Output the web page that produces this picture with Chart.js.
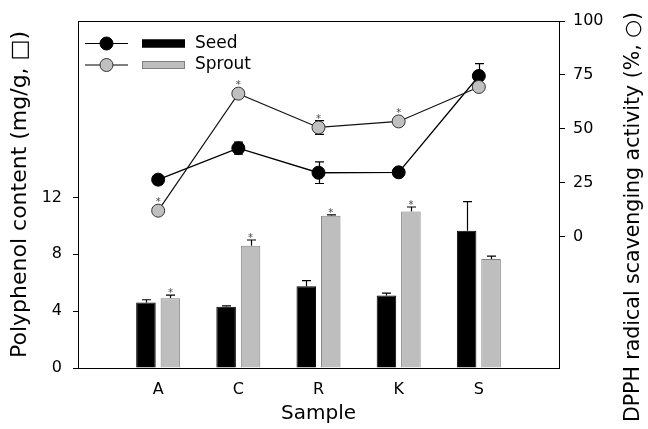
<!DOCTYPE html>
<html><head><meta charset="utf-8">
<script src="https://cdn.jsdelivr.net/npm/chart.js@4/dist/chart.umd.min.js"></script>
<style>html,body{margin:0;padding:0;background:#fff;}#wrap{width:648px;height:429px;position:relative;}canvas{display:block;}</style>
</head><body><div id="wrap"><canvas id="c" width="648" height="429" style="width:648px;height:429px"></canvas></div>
<script>
// ---- data ----
const categories = ['A', 'C', 'R', 'K', 'S'];
const seedPoly = [4.6, 4.3, 5.75, 5.1, 9.65];
const seedPolyErr = [0.2, 0.07, 0.4, 0.16, 2.05];
const sproutPoly = [4.9, 8.6, 10.7, 11.0, 7.67];
const sproutPolyErr = [0.23, 0.4, 0.07, 0.32, 0.2];
const seedDpph = [26.4, 41.0, 29.6, 29.8, 74.5];
const seedDpphErr = [1.5, 2.8, 5.0, 1.5, 5.7];
const sproutDpph = [12.0, 66.3, 50.6, 53.4, 69.4];
const sproutDpphErr = [1.0, 1.5, 3.2, 1.5, 1.5];
const sproutPolySig = [true, true, true, true, false];
const sproutDpphSig = [true, true, true, true, false];
const leftTicks = [0, 4, 8, 12];
const rightTicks = [0, 25, 50, 75, 100];
const seriesNames = ['Seed', 'Sprout'];
const xTitle = 'Sample';
const yLeftTitle = 'Polyphenol content (mg/g, \u25A1)';
const yRightTitle = 'DPPH radical scavenging activity (%, \u25CB)';

const FONT = 'DejaVu Sans';
Chart.defaults.font.family = FONT;
Chart.defaults.color = '#000';

const pad = arr => [null, ...arr, null];
const labels = ['', ...categories, ''];

const errors = { 0: sproutDpphErr, 1: seedDpphErr, 2: seedPolyErr, 3: sproutPolyErr };
const errBoth = { 0: true, 1: true, 2: false, 3: false };

const errorBarPlugin = {
  id: 'errorBars',
  beforeDatasetsDraw(chart) {
    const ctx = chart.ctx;
    ctx.save();
    ctx.strokeStyle = '#000';
    ctx.lineWidth = 1.2;
    chart.data.datasets.forEach((ds, di) => {
      const meta = chart.getDatasetMeta(di);
      const scale = chart.scales[meta.yAxisID];
      const errs = errors[di];
      if (!errs) return;
      errs.forEach((e, i) => {
        const el = meta.data[i + 1];
        const v = ds.data[i + 1];
        if (!el || v == null) return;
        const yTop = scale.getPixelForValue(v + e);
        const yBot = errBoth[di] ? scale.getPixelForValue(v - e) : scale.getPixelForValue(v);
        const x = Math.round(el.x) + 0.5;
        const cw = 4.5;
        ctx.beginPath();
        ctx.moveTo(x, yTop); ctx.lineTo(x, yBot);
        ctx.moveTo(x - cw, yTop); ctx.lineTo(x + cw, yTop);
        if (errBoth[di]) { ctx.moveTo(x - cw, yBot); ctx.lineTo(x + cw, yBot); }
        ctx.stroke();
      });
    });
    ctx.restore();
  },
  afterDatasetsDraw(chart) {
    const ctx = chart.ctx;
    ctx.save();
    ctx.fillStyle = '#444';
    ctx.font = '10px ' + FONT;
    ctx.textAlign = 'center';
    ctx.textBaseline = 'alphabetic';
    const mark = (di, sig) => {
      const meta = chart.getDatasetMeta(di);
      const scale = chart.scales[meta.yAxisID];
      const ds = chart.data.datasets[di];
      sig.forEach((s, i) => {
        if (!s) return;
        const el = meta.data[i + 1];
        const v = ds.data[i + 1];
        const cap = scale.getPixelForValue(v + errors[di][i]);
        const top = meta.type === 'line' ? Math.min(el.y - 6.5, cap) : Math.min(el.y, cap);
        ctx.fillText('*', el.x, top - 5 + 6);
      });
    };
    mark(0, sproutDpphSig);
    mark(3, sproutPolySig);
    // top frame line
    const a = chart.chartArea;
    ctx.strokeStyle = '#000';
    ctx.lineWidth = 1;
    ctx.beginPath();
    ctx.moveTo(a.left, Math.round(a.top) + 0.5);
    ctx.lineTo(a.right + 0.5, Math.round(a.top) + 0.5);
    ctx.stroke();
    ctx.restore();
  },
  afterDraw(chart) {
    const ctx = chart.ctx;
    ctx.save();
    // legend
    const rows = [
      { y: 43.5, fill: '#000', stroke: '#000', rectFill: '#000', rectStroke: '#000', name: seriesNames[0] },
      { y: 65, fill: '#c0c0c0', stroke: '#333', rectFill: '#bebebe', rectStroke: '#808080', name: seriesNames[1] }
    ];
    rows.forEach(r => {
      ctx.strokeStyle = '#000';
      ctx.lineWidth = 1.2;
      ctx.beginPath();
      ctx.moveTo(85, r.y); ctx.lineTo(128, r.y);
      ctx.stroke();
      ctx.beginPath();
      ctx.arc(106.5, r.y, 6.5, 0, Math.PI * 2);
      ctx.fillStyle = r.fill; ctx.fill();
      ctx.strokeStyle = r.stroke; ctx.lineWidth = 1; ctx.stroke();
      ctx.fillStyle = r.rectFill;
      ctx.fillRect(142, r.y - 4, 43, 8);
      ctx.strokeStyle = r.rectStroke;
      ctx.strokeRect(142.5, r.y - 3.5, 42, 7);
      ctx.fillStyle = '#000';
      ctx.font = '17px ' + FONT;
      ctx.textAlign = 'left';
      ctx.textBaseline = 'middle';
      ctx.fillText(r.name, 195, r.y);
    });
    // right axis title (reads bottom to top)
    ctx.translate(634, 217);
    ctx.rotate(-Math.PI / 2);
    ctx.font = '20.5px ' + FONT;
    ctx.textAlign = 'center';
    ctx.textBaseline = 'middle';
    ctx.fillStyle = '#000';
    ctx.fillText(yRightTitle, 0, 0);
    ctx.restore();
  }
};

new Chart(document.getElementById('c'), {
  data: {
    labels: labels,
    datasets: [
      { type: 'line', label: seriesNames[1] + ' DPPH', data: pad(sproutDpph), yAxisID: 'y2', order: 0,
        borderColor: '#111', borderWidth: 1.2, tension: 0, pointRadius: 6.5, pointHoverRadius: 6.5,
        pointBackgroundColor: '#c0c0c0', pointBorderColor: '#333', pointBorderWidth: 1 },
      { type: 'line', label: seriesNames[0] + ' DPPH', data: pad(seedDpph), yAxisID: 'y2', order: 1,
        borderColor: '#000', borderWidth: 1.3, tension: 0, pointRadius: 6.5, pointHoverRadius: 6.5,
        pointBackgroundColor: '#000', pointBorderColor: '#000', pointBorderWidth: 1 },
      { type: 'bar', label: seriesNames[0], data: pad(seedPoly), yAxisID: 'y', order: 2,
        backgroundColor: '#000', borderColor: '#000', borderWidth: 1,
        categoryPercentage: 0.61, barPercentage: 0.8 },
      { type: 'bar', label: seriesNames[1], data: pad(sproutPoly), yAxisID: 'y', order: 3,
        backgroundColor: '#bebebe', borderColor: '#808080', borderWidth: 1,
        categoryPercentage: 0.61, barPercentage: 0.8 }
    ]
  },
  options: {
    responsive: false,
    animation: false,
    devicePixelRatio: 1,
    layout: { padding: { top: 21, left: 0, right: 0, bottom: 0 } },
    plugins: { legend: { display: false }, tooltip: { enabled: false } },
    scales: {
      x: {
        type: 'category', offset: false,
        grid: { display: false, drawTicks: false },
        border: { display: true, color: '#000', width: 1 },
        ticks: { color: '#000', font: { size: 16 }, padding: 12, autoSkip: false, maxRotation: 0 },
        title: { display: true, text: xTitle, color: '#000', font: { size: 20 }, padding: { top: 0, bottom: 3 } },
        afterFit(s) { s.height = 61; }
      },
      y: {
        position: 'left', min: 0, max: 24.4,
        afterBuildTicks(a) { a.ticks = leftTicks.map(v => ({ value: v })); },
        grid: { drawOnChartArea: false, tickLength: 5, color: '#000' },
        border: { display: true, color: '#000', width: 1 },
        ticks: { color: '#000', font: { size: 16 }, padding: 11 },
        title: { display: true, text: yLeftTitle, color: '#000', font: { size: 22 }, padding: { top: 7, bottom: 0 } },
        afterFit(s) { s.width = 78; }
      },
      y2: {
        position: 'right', min: -61, max: 100,
        afterBuildTicks(a) { a.ticks = rightTicks.map(v => ({ value: v })); },
        grid: { drawOnChartArea: false, tickLength: 6, color: '#000' },
        border: { display: true, color: '#000', width: 1 },
        ticks: { color: '#000', font: { size: 16 }, padding: 8 },
        afterFit(s) { s.width = 89; }
      }
    }
  },
  plugins: [errorBarPlugin]
});
</script>
</body></html>
